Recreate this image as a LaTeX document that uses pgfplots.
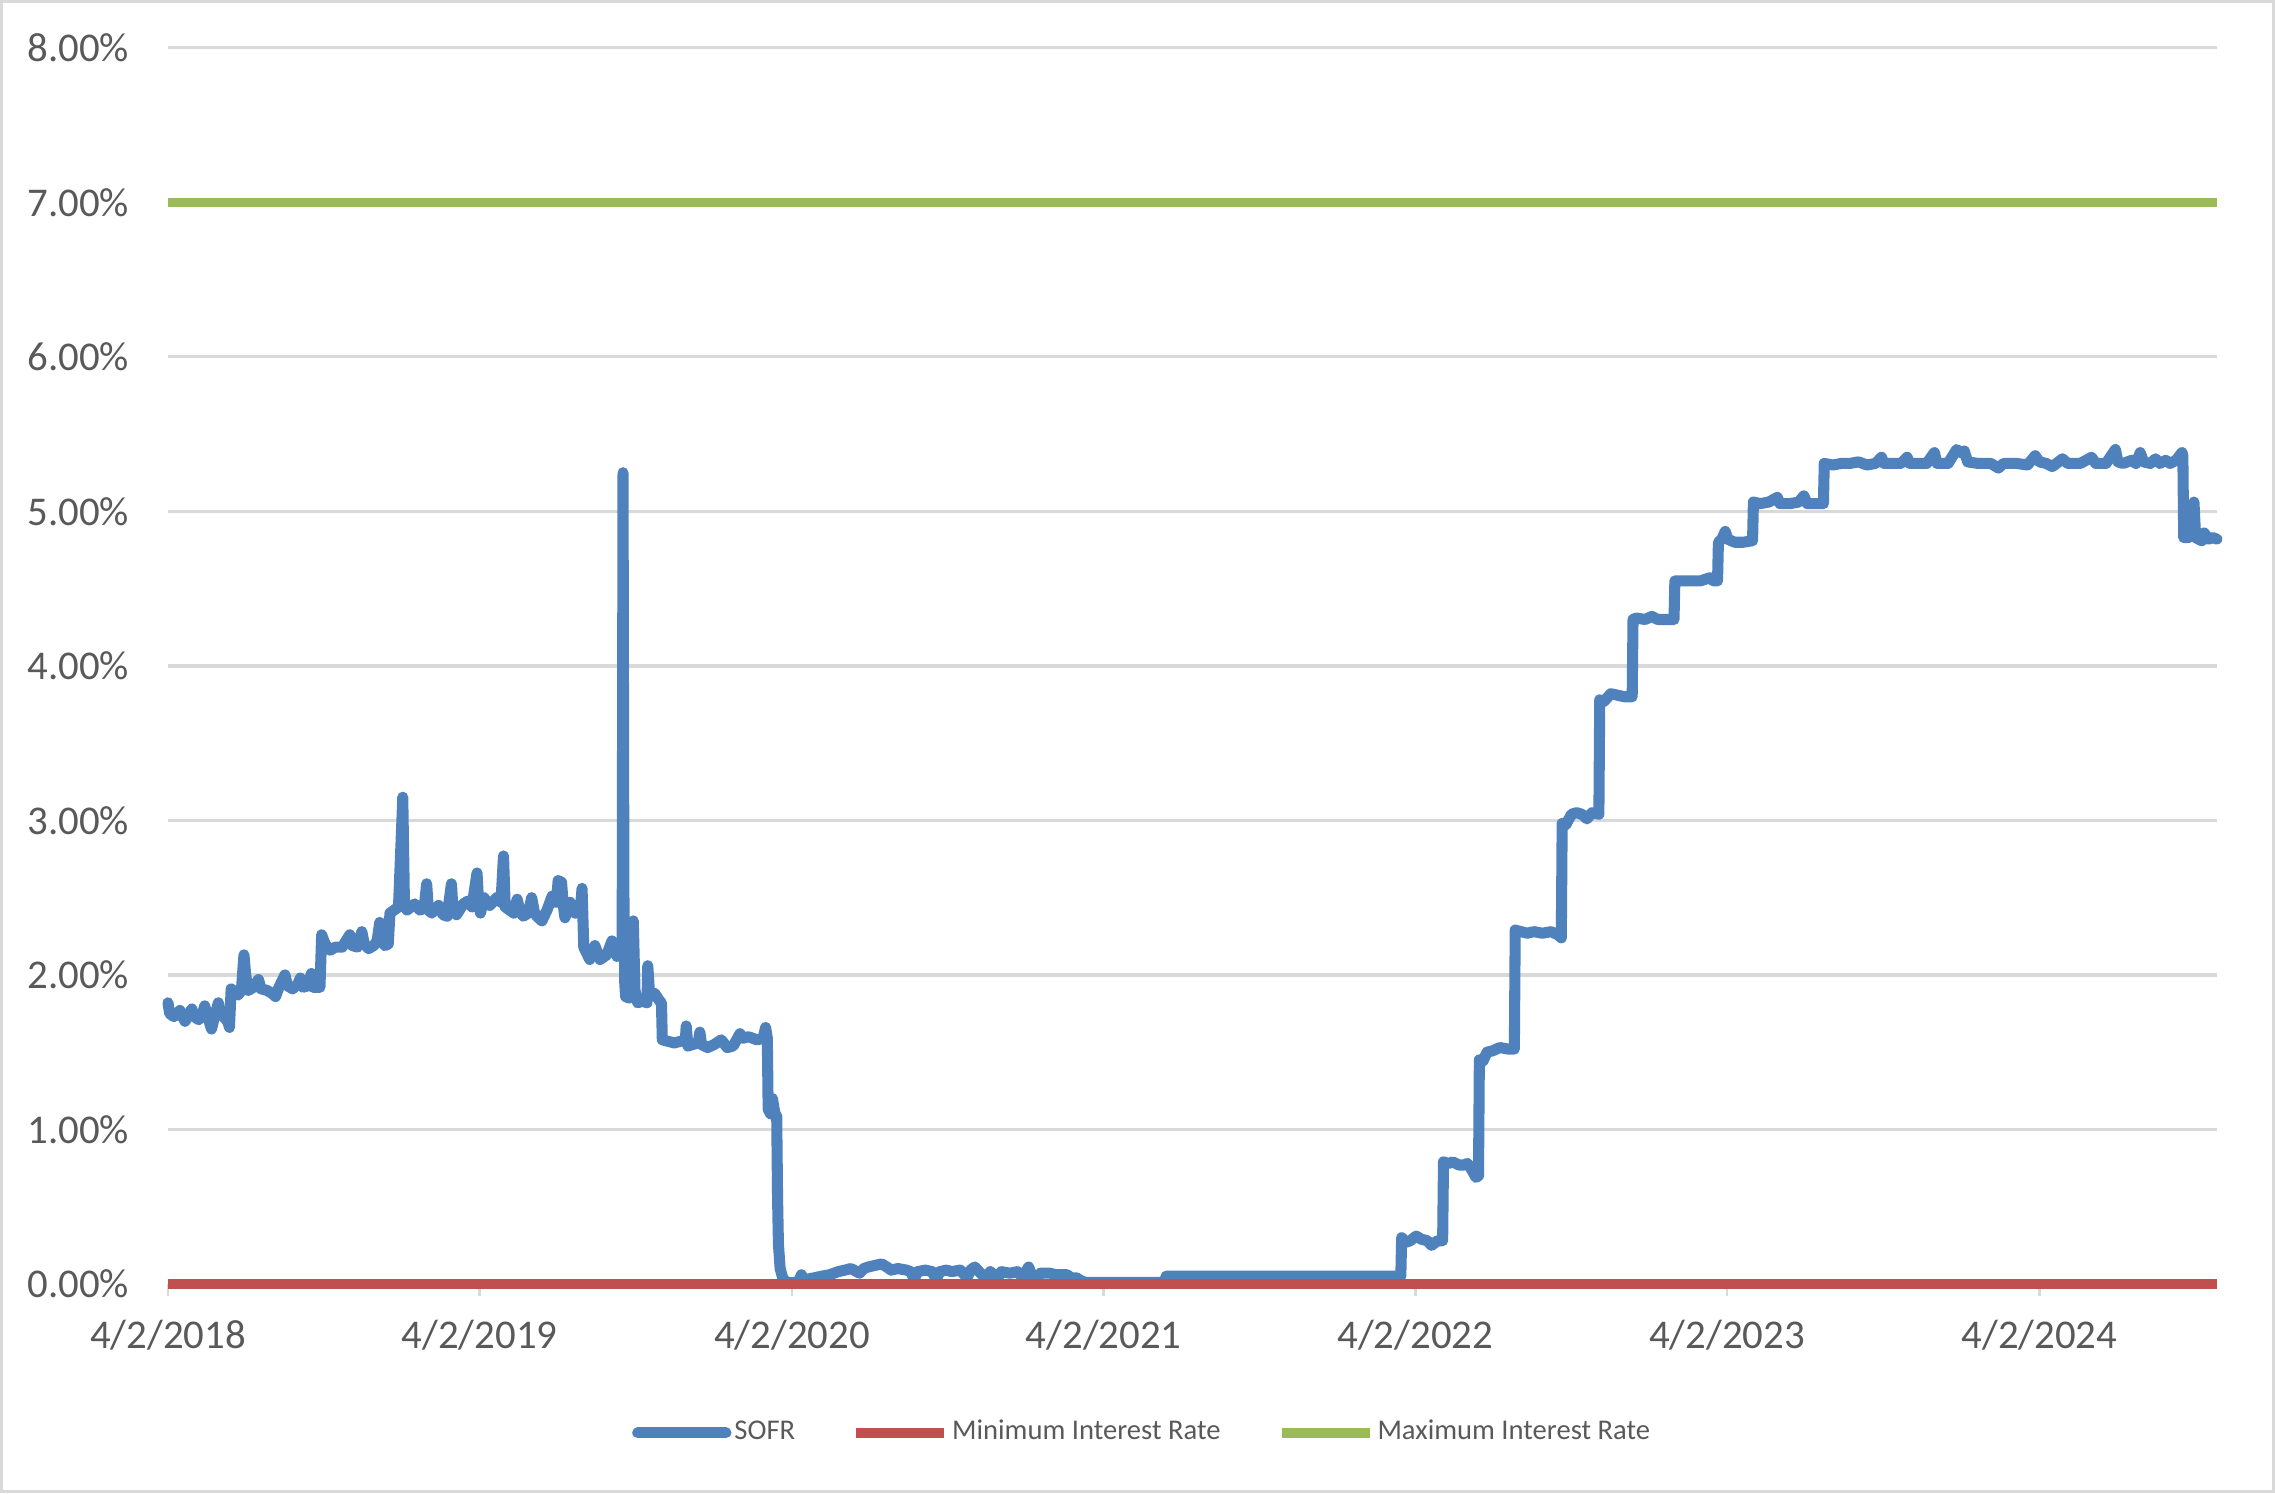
\documentclass[border=0pt]{standalone}
\usepackage{fontspec}
\setmainfont{Carlito}
\usepackage{pgfplots}
\usepackage{pgfplotstable}
\pgfplotsset{compat=1.18}
\definecolor{sofrc}{HTML}{4F81BD}
\definecolor{minc}{HTML}{C0504D}
\definecolor{maxc}{HTML}{9BBB59}
\definecolor{txt}{HTML}{595959}
\definecolor{grd}{HTML}{D9D9D9}

% SOFR in percent, x = days since 4/2/2018
\pgfplotstableread{
day rate
0 1.82
2 1.75
7 1.73
14 1.77
17 1.73
20 1.70
24 1.74
28 1.78
31 1.73
36 1.71
40 1.74
43 1.80
46 1.74
51 1.65
54 1.72
59 1.82
61 1.75
65 1.73
70 1.70
72 1.66
74 1.91
78 1.88
82 1.87
86 1.90
89 2.13
91 2.00
94 1.90
100 1.92
106 1.97
109 1.91
116 1.90
122 1.88
126 1.86
130 1.92
137 2.00
140 1.93
146 1.91
152 1.94
155 1.98
158 1.92
164 1.93
168 2.01
170 1.92
178 1.92
180 2.26
184 2.20
190 2.16
196 2.18
204 2.18
213 2.26
216 2.19
222 2.18
227 2.28
230 2.20
235 2.17
241 2.19
245 2.22
248 2.34
251 2.22
254 2.19
258 2.20
260 2.40
265 2.42
270 2.44
274 3.00
275 3.15
277 2.45
280 2.42
289 2.46
295 2.42
300 2.43
303 2.59
305 2.42
309 2.40
317 2.45
322 2.39
327 2.38
332 2.59
334 2.41
338 2.39
346 2.46
352 2.48
356 2.44
362 2.66
364 2.45
366 2.40
370 2.50
377 2.45
385 2.50
390 2.47
393 2.77
395 2.44
405 2.40
409 2.49
412 2.42
416 2.38
422 2.40
426 2.50
429 2.41
432 2.38
438 2.35
444 2.42
450 2.51
455 2.47
457 2.61
461 2.60
463 2.45
465 2.37
471 2.47
477 2.40
483 2.42
485 2.56
487 2.18
494 2.10
500 2.19
506 2.10
514 2.13
520 2.22
526 2.12
530 2.15
532 2.20
533 5.25
534 2.55
535 1.95
536 1.86
540 1.85
544 1.88
545 2.35
547 1.90
550 1.82
556 1.83
561 1.82
562 2.06
564 1.88
570 1.88
576 1.83
578 1.82
579 1.58
586 1.57
593 1.56
600 1.57
606 1.58
607 1.67
609 1.54
615 1.55
621 1.56
623 1.63
625 1.55
632 1.53
640 1.55
648 1.58
655 1.53
662 1.54
670 1.62
673 1.59
680 1.60
690 1.58
697 1.59
700 1.66
702 1.59
703 1.13
706 1.10
708 1.20
711 1.10
713 1.09
714 0.56
715 0.26
717 0.10
720 0.04
724 0.01
730 0.01
738 0.01
742 0.06
745 0.02
748 0.03
757 0.04
765 0.05
775 0.06
785 0.08
793 0.09
800 0.10
810 0.07
815 0.10
820 0.11
828 0.12
836 0.13
842 0.11
847 0.09
855 0.10
865 0.09
870 0.08
874 0.03
878 0.08
887 0.09
895 0.08
900 0.03
904 0.08
912 0.09
918 0.08
928 0.09
936 0.04
940 0.09
945 0.11
950 0.08
959 0.03
963 0.08
972 0.04
976 0.08
986 0.07
995 0.08
1003 0.03
1006 0.09
1008 0.11
1011 0.07
1017 0.03
1022 0.07
1033 0.07
1040 0.06
1053 0.06
1058 0.04
1064 0.04
1070 0.02
1075 0.01
1100 0.01
1130 0.01
1168 0.01
1169 0.05
1250 0.05
1350 0.05
1444 0.05
1445 0.30
1450 0.27
1455 0.28
1462 0.31
1468 0.29
1475 0.28
1480 0.25
1487 0.28
1493 0.28
1494 0.79
1500 0.78
1505 0.79
1512 0.77
1518 0.77
1522 0.78
1527 0.74
1532 0.69
1535 0.70
1536 1.45
1540 1.44
1545 1.50
1552 1.51
1560 1.53
1570 1.52
1577 1.52
1578 2.29
1585 2.28
1592 2.27
1600 2.28
1610 2.27
1620 2.28
1628 2.26
1632 2.24
1633 2.98
1637 2.97
1644 3.04
1650 3.05
1656 3.04
1662 3.01
1668 3.05
1676 3.04
1677 3.78
1682 3.77
1690 3.82
1698 3.81
1706 3.80
1715 3.80
1716 4.30
1720 4.31
1730 4.30
1738 4.32
1745 4.30
1755 4.30
1764 4.30
1765 4.55
1775 4.55
1785 4.55
1795 4.55
1806 4.57
1810 4.55
1815 4.55
1816 4.80
1820 4.82
1824 4.87
1827 4.82
1835 4.80
1845 4.80
1856 4.81
1857 5.06
1865 5.05
1875 5.06
1885 5.09
1888 5.05
1900 5.05
1910 5.06
1916 5.10
1920 5.05
1939 5.05
1940 5.31
1950 5.30
1960 5.31
1970 5.31
1980 5.32
1990 5.30
2000 5.31
2007 5.35
2010 5.31
2020 5.31
2030 5.31
2037 5.35
2040 5.31
2050 5.31
2060 5.31
2069 5.38
2072 5.31
2085 5.31
2095 5.40
2100 5.38
2104 5.39
2108 5.32
2120 5.31
2135 5.31
2144 5.28
2150 5.31
2165 5.31
2178 5.30
2187 5.36
2192 5.32
2200 5.31
2207 5.29
2212 5.31
2219 5.34
2225 5.31
2240 5.31
2253 5.35
2258 5.31
2270 5.31
2281 5.40
2284 5.32
2290 5.31
2300 5.33
2305 5.31
2310 5.38
2314 5.32
2322 5.31
2328 5.34
2333 5.31
2340 5.33
2345 5.31
2352 5.33
2359 5.38
2360 5.36
2361 4.83
2366 4.83
2370 4.84
2373 5.06
2375 4.83
2382 4.81
2385 4.86
2390 4.82
2395 4.83
2400 4.82
}\sofrtab

\begin{document}
\begin{tikzpicture}
\useasboundingbox (-40.98bp,-50.99bp) rectangle (514.02bp,313.24bp);
\draw[grd,line width=0.7bp] (-40.63bp,-50.64bp) rectangle (513.67bp,312.89bp);
\begin{axis}[
  at={(0bp,0bp)}, anchor=south west, scale only axis,
  width=499.87bp, height=301.6bp,
  xmin=0, xmax=2400, ymin=0, ymax=8,
  clip=false,
  axis lines*=left,
  x axis line style={grd,line width=0.8bp},
  y axis line style={draw=none},
  xtick={0,365,731,1096,1461,1826,2192},
  xticklabels={4/2/2018,4/2/2019,4/2/2020,4/2/2021,4/2/2022,4/2/2023,4/2/2024},
  ytick={0,1,2,3,4,5,6,7,8},
  yticklabels={0.00\%,1.00\%,2.00\%,3.00\%,4.00\%,5.00\%,6.00\%,7.00\%,8.00\%},
  ymajorgrids, grid style={grd,line width=0.8bp},
  tick align=outside, major tick length=3bp,
  xtick style={grd,line width=0.65bp},
  ytick style={draw=none},
  tick label style={font=\fontsize{10}{12}\selectfont, text=txt},
  yticklabel style={inner sep=0pt, xshift=-6.3bp},
  xticklabel style={anchor=base, inner sep=0pt, yshift=-12.8bp},
  legend columns=3,
  legend style={at={(0.4757,-0.1204)}, anchor=center, draw=none, fill=none,
    font=\fontsize{7}{8.4}\selectfont, text=txt,
    nodes={inner sep=0.75bp},
    /tikz/every even column/.append style={column sep=13bp}},
  legend image code/.code={\draw[#1] (0bp,0bp) -- (21.5bp,0bp);},
]
\addplot[sofrc, line width=2.7bp, line cap=round, line join=round] table[x=day,y=rate] {\sofrtab};
\addlegendentry{SOFR}
\addplot[minc, line width=2.3bp] coordinates {(0,0) (2400,0)};
\addlegendentry{Minimum Interest Rate}
\addplot[maxc, line width=2.3bp] coordinates {(0,7) (2400,7)};
\addlegendentry{Maximum Interest Rate}
\end{axis}
\end{tikzpicture}
\end{document}
